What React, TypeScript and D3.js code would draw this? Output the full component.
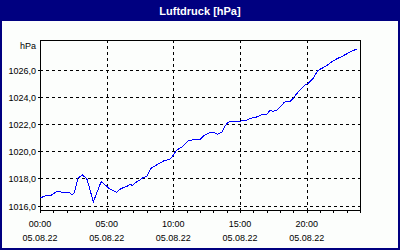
import React from "react";
import * as d3 from "d3";

const title = "Luftdruck [hPa]";
const unit = "hPa";
const dateLabel = "05.08.22";

const times = [
  "00:00", "00:30", "00:50", "01:15", "01:30", "01:45", "02:15", "02:25", "02:35", "02:50",
  "03:10", "03:30", "03:45", "04:00", "04:15", "04:35", "04:50", "05:10", "05:30", "05:45",
  "06:00", "06:20", "06:35", "06:50", "06:55", "07:10", "07:30", "07:45", "08:00", "08:20",
  "08:45", "09:15", "09:45", "09:55", "10:15", "10:40", "11:05", "11:35", "12:00", "12:15",
  "12:40", "13:05", "13:20", "13:40", "13:50", "14:05", "14:20", "15:00", "15:30", "15:45",
  "16:15", "16:40", "17:00", "17:15", "17:30", "17:45", "18:10", "18:20", "18:45", "19:00",
  "19:15", "19:35", "19:50", "20:05", "20:30", "20:50", "21:10", "21:30", "21:55", "22:15",
  "22:40", "23:00", "23:20", "23:45",
];

const pressure = [
  1016.54, 1016.76, 1016.76, 1017.02, 1017.02, 1016.93, 1016.93, 1016.78, 1016.95, 1018.0,
  1018.25, 1018.0, 1017.15, 1016.27, 1016.9, 1017.76, 1017.56, 1017.27, 1017.1, 1016.95,
  1017.2, 1017.35, 1017.44, 1017.59, 1017.44, 1017.68, 1017.88, 1018.08, 1018.12, 1018.74,
  1018.98, 1019.27, 1019.42, 1019.58, 1020.07, 1020.32, 1020.73, 1020.86, 1020.86, 1021.1,
  1021.34, 1021.34, 1021.24, 1021.41, 1021.78, 1022.1, 1022.2, 1022.2, 1022.27, 1022.39,
  1022.51, 1022.7, 1022.7, 1023.0, 1022.93, 1023.0, 1023.42, 1023.6, 1023.66, 1023.9,
  1024.22, 1024.59, 1024.83, 1024.95, 1025.36, 1025.93, 1026.1, 1026.29, 1026.59, 1026.78,
  1026.97, 1027.15, 1027.32, 1027.51,
];

const xTickLabels = ["00:00", "05:00", "10:00", "15:00", "20:00"];
const yTicks = [1016, 1018, 1020, 1022, 1024, 1026];

const W = 400;
const H = 250;
const NAVY = "#000080";
const FONT = "'Liberation Sans', Arial, sans-serif";

const toHours = (t: string) => {
  const [h, m] = t.split(":").map(Number);
  return h + m / 60;
};

export default function App() {
  const left = 40, right = 360, top = 40, bottom = 210;
  const x = d3.scaleLinear().domain([0, 24]).range([left, right]);
  const y = d3.scaleLinear().domain([1015.67, 1028.17]).range([bottom, top]);
  const px = (v: number) => Math.round(v) + 0.5;

  const pts: [number, number][] = times.map((t, i) => [toHours(t), pressure[i]]);
  const line = d3
    .line<[number, number]>()
    .x((d) => x(d[0]))
    .y((d) => y(d[1]));

  const hourTicks = d3.range(0, 25);

  return (
    <svg
      width={W}
      height={H}
      style={{ position: "absolute", left: 0, top: 0, display: "block" }}
      fontFamily={FONT}
    >
      <rect x={0} y={0} width={W} height={H} fill={NAVY} />
      <rect x={2} y={21} width={W - 4} height={H - 23} fill="#fcfefc" />
      <text
        x={W / 2}
        y={15}
        textAnchor="middle"
        fill="#ffffff"
        fontWeight="bold"
        fontSize={11}
      >
        {title}
      </text>

      {/* horizontal grid */}
      {yTicks.map((v) => (
        <g key={v}>
          <line
            x1={left}
            x2={right}
            y1={px(y(v))}
            y2={px(y(v))}
            stroke="#000"
            strokeDasharray="3,3"
            shapeRendering="crispEdges"
          />
          <line
            x1={left - 2}
            x2={left}
            y1={px(y(v))}
            y2={px(y(v))}
            stroke="#000"
            shapeRendering="crispEdges"
          />
          <text
            x={36}
            y={px(y(v))}
            dy="0.35em"
            textAnchor="end"
            fontSize={9}
            fill="#000"
          >
            {v.toFixed(1).replace(".", ",")}
          </text>
        </g>
      ))}
      <text x={36} y={46} dy="0.35em" textAnchor="end" fontSize={9} fill="#000">
        {unit}
      </text>

      {/* vertical grid */}
      {xTickLabels.map((lab) => {
        const xx = px(x(toHours(lab)));
        return (
          <g key={lab}>
            {toHours(lab) > 0 && (
              <line
                x1={xx}
                x2={xx}
                y1={top}
                y2={bottom}
                stroke="#000"
                strokeDasharray="3,3"
                shapeRendering="crispEdges"
              />
            )}
            <text x={x(toHours(lab))} y={226.5} textAnchor="middle" fontSize={9} fill="#000">
              {lab}
            </text>
            <text x={x(toHours(lab))} y={241} textAnchor="middle" fontSize={9} fill="#000">
              {dateLabel}
            </text>
          </g>
        );
      })}

      {/* hourly ticks */}
      {hourTicks.map((h) => (
        <line
          key={h}
          x1={px(x(h))}
          x2={px(x(h))}
          y1={bottom}
          y2={bottom + 3}
          stroke="#000"
          shapeRendering="crispEdges"
        />
      ))}

      {/* frame */}
      <rect
        x={left + 0.5}
        y={top + 0.5}
        width={right - left}
        height={bottom - top}
        fill="none"
        stroke="#000"
        shapeRendering="crispEdges"
      />

      <path
        d={line(pts) || ""}
        fill="none"
        stroke="#0000ff"
        strokeWidth={1}
        shapeRendering="crispEdges"
      />
    </svg>
  );
}
